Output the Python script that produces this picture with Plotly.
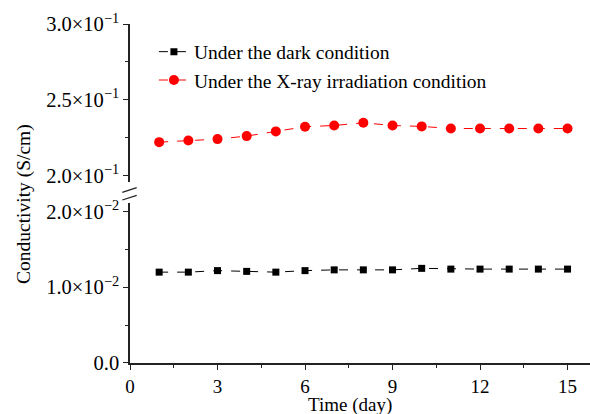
import plotly.graph_objects as go

days = list(range(1, 16))
dark = [0.0120, 0.0120, 0.0122, 0.0121, 0.0120, 0.0122, 0.0123, 0.0123, 0.0123,
        0.0125, 0.0124, 0.0124, 0.0124, 0.0124, 0.0124]
xray = [0.2220, 0.2231, 0.2240, 0.2260, 0.2291, 0.2322, 0.2330, 0.2348, 0.2330,
        0.2324, 0.2310, 0.2310, 0.2310, 0.2310, 0.2310]

lower_ticks = [0.0, 0.01, 0.02]
lower_labels = ["0.0", "1.0×10<sup>−2</sup>", "2.0×10<sup>−2</sup>"]
upper_ticks = [0.20, 0.25, 0.30]
upper_labels = ["2.0×10<sup>−1</sup>", "2.5×10<sup>−1</sup>", "3.0×10<sup>−1</sup>"]
x_ticks = [0, 3, 6, 9, 12, 15]

FONT = "Liberation Serif"
W, H = 590, 414
L, R, T, B = 130, 0, 24, 51
PW, PH = W - L - R, H - T - B
low_top = 0.4724
up_bot = 0.5344

fig = go.Figure()
fig.add_trace(go.Scatter(
    x=days, y=dark, xaxis="x", yaxis="y", mode="lines+markers",
    name="Under the dark condition",
    line=dict(color="black", width=1, dash="dash"),
    marker=dict(symbol="square", size=7, color="black")))
fig.add_trace(go.Scatter(
    x=days, y=xray, xaxis="x", yaxis="y2", mode="lines+markers",
    name="Under the X-ray irradiation condition",
    line=dict(color="red", width=1, dash="dash"),
    marker=dict(symbol="circle", size=10, color="red")))

axcol = "#222222"
XF = 19
YF = 20.5
fig.update_layout(
    width=W, height=H,
    margin=dict(l=L, r=R, t=T, b=B),
    paper_bgcolor="white", plot_bgcolor="white",
    font=dict(family=FONT, size=XF, color="black"),
    showlegend=True,
    legend=dict(x=0.052, y=0.975, xanchor="left", yanchor="top",
                bgcolor="rgba(0,0,0,0)", font=dict(size=19.5, family=FONT),
                tracegroupgap=0, itemwidth=30),
    xaxis=dict(range=[0, 15.77], domain=[0, 1], anchor="y",
               tickvals=x_ticks, ticks="outside", ticklen=5, tickwidth=1.2,
               tickcolor=axcol, showline=True, linecolor=axcol, linewidth=1.5,
               showgrid=False, zeroline=False,
               minor=dict(dtick=1.5, tick0=0, ticks="outside", ticklen=3,
                          tickcolor=axcol, showgrid=False),
               tickfont=dict(size=XF, family=FONT)),
    xaxis2=dict(range=[0, 15.77], domain=[0, 1], anchor="y2", side="top",
                overlaying="x", showticklabels=False, dtick=1.5, tick0=0,
                ticks="inside", ticklen=2, tickcolor=axcol,
                showline=True, linecolor=axcol, linewidth=1.5,
                showgrid=False, zeroline=False),
    yaxis=dict(range=[0, 0.02115], domain=[0, low_top], anchor="x",
               tickvals=lower_ticks, ticktext=lower_labels,
               ticks="outside", ticklen=5, tickwidth=1.2, tickcolor=axcol,
               showline=True, linecolor=axcol, linewidth=1.5,
               showgrid=False, zeroline=False, tickfont=dict(size=YF, family=FONT),
               minor=dict(tickvals=[0.005, 0.015], ticks="outside", ticklen=3,
                          tickcolor=axcol, showgrid=False)),
    yaxis2=dict(range=[0.1958, 0.3], domain=[up_bot, 1], anchor="x",
                tickvals=upper_ticks, ticktext=upper_labels,
                ticks="outside", ticklen=5, tickwidth=1.2, tickcolor=axcol,
                showline=True, linecolor=axcol, linewidth=1.5,
                showgrid=False, zeroline=False, tickfont=dict(size=YF, family=FONT),
                minor=dict(tickvals=[0.225, 0.275], ticks="outside", ticklen=3,
                           tickcolor=axcol, showgrid=False)),
)

def px2paper(px, py):
    return (px - L) / PW, (H - B - py) / PH

# axis break marks
for (x0, y0, x1, y1) in [(122.3, 192.3, 136.7, 187.7), (122.3, 200.0, 136.7, 195.3)]:
    a0, b0 = px2paper(x0, y0)
    a1, b1 = px2paper(x1, y1)
    fig.add_shape(type="line", xref="paper", yref="paper", x0=a0, y0=b0, x1=a1, y1=b1,
                  line=dict(color=axcol, width=1.3))

# axis titles
ax_x, ax_y = px2paper(24, 204)
fig.add_annotation(text="Conductivity (S/cm)", xref="paper", yref="paper",
                   x=ax_x, y=ax_y, textangle=-90, showarrow=False,
                   font=dict(size=19.5, family=FONT), xanchor="center", yanchor="middle")
tx, ty = px2paper(350, 405)
fig.add_annotation(text="Time (day)", xref="paper", yref="paper",
                   x=tx, y=ty, showarrow=False,
                   font=dict(size=19, family=FONT), xanchor="center", yanchor="middle")

fig.write_html("out.html")
